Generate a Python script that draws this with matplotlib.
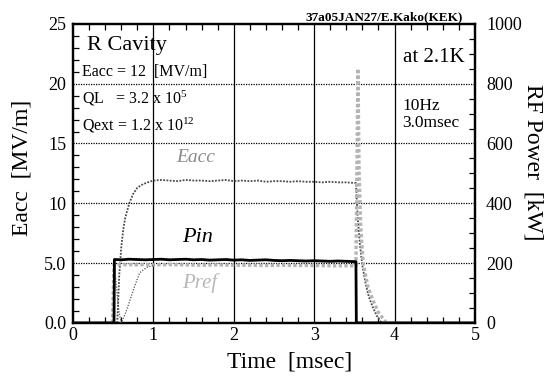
# plot.py - R cavity pulse waveforms (Eacc, Pin, Pref) at 2.1K

import matplotlib
matplotlib.use("Agg")
import matplotlib.pyplot as plt
from matplotlib.ticker import MultipleLocator, FixedLocator, FixedFormatter

# 1. Fonts
plt.rcParams["font.family"] = ["Liberation Serif", "DejaVu Serif"]
plt.rcParams["mathtext.fontset"] = "custom"
plt.rcParams["mathtext.rm"] = "Liberation Serif"

# 2. Data (time in msec)
# accelerating field, MV/m (left axis)
eacc_t = [0.55, 0.56, 0.575, 0.60, 0.625, 0.65, 0.70, 0.75, 0.80, 0.87, 0.95,
          1.0, 1.1, 1.2, 1.3, 1.4, 1.5, 1.6, 1.7, 1.8, 1.9, 2.0, 2.1, 2.2, 2.3,
          2.4, 2.5, 2.6, 2.7, 2.8, 2.9, 3.0, 3.1, 3.2, 3.3, 3.4, 3.5, 3.52,
          3.54, 3.57, 3.60, 3.64, 3.68, 3.73, 3.78, 3.84]
eacc_v = [0.0, 1.5, 4.0, 6.3, 7.8, 8.8, 10.0, 10.8, 11.3, 11.6, 11.8,
          11.9, 11.95, 11.9, 11.85, 11.95, 11.9, 11.9, 11.85, 11.9, 11.95, 11.85,
          11.9, 11.85, 11.9, 11.8, 11.85, 11.85, 11.8, 11.85, 11.8, 11.8, 11.75,
          11.8, 11.75, 11.75, 11.7, 11.7,
          9.0, 6.5, 4.8, 3.3, 2.2, 1.3, 0.6, 0.0]

# input power, kW (right axis)
pin_t = [0.0, 0.51, 0.515, 0.6, 0.7, 0.8, 0.9, 1.0, 1.1, 1.2, 1.3, 1.4, 1.5,
         1.6, 1.7, 1.8, 1.9, 2.0, 2.1, 2.2, 2.3, 2.4, 2.5, 2.6, 2.7, 2.8, 2.9,
         3.0, 3.1, 3.2, 3.3, 3.4, 3.5, 3.52, 3.525, 5.0]
pin_v = [0, 0, 212, 211, 213, 212, 211, 212, 213, 211, 212, 213, 211,
         212, 210, 211, 212, 210, 211, 209, 210, 211, 209, 208, 209, 208, 207,
         208, 207, 206, 207, 206, 205, 205, 0, 0]

# reflected power, kW (right axis)
pref_t = [0.49, 0.51, 0.55, 0.6, 0.7, 0.8, 0.9, 1.0, 1.2, 1.4, 1.6, 1.8, 2.0,
          2.2, 2.4, 2.6, 2.8, 3.0, 3.2, 3.4, 3.52, 3.535, 3.545, 3.56, 3.58,
          3.61, 3.67, 3.73, 3.80, 3.90]
pref_v = [0, 196, 195, 194, 195, 194, 195, 194, 195, 194, 193, 194, 193,
          193, 192, 193, 192, 192, 191, 191, 191, 600, 850, 500, 320,
          200, 120, 77, 35, 0]

# reflected power during cavity filling, kW (right axis)
fill_t = [0.515, 0.54, 0.57, 0.60, 0.65, 0.71, 0.77, 0.83, 0.92, 1.02]
fill_v = [195, 120, 40, 0, 30, 77, 125, 168, 186, 194]

# tick labels
eacc_ticks = [0, 5, 10, 15, 20, 25]
eacc_labels = ["0.0", "5.0", "10", "15", "20", "25"]
power_ticks = [0, 200, 400, 600, 800, 1000]
time_ticks = [0, 1, 2, 3, 4, 5]

# 3. Figure
fig = plt.figure(figsize=(5.49, 3.79), dpi=100)
ax = fig.add_axes([0.133, 0.148, 0.732, 0.789])
ax2 = ax.twinx()

ax.set_xlim(0, 5)
ax.set_ylim(0, 25)
ax2.set_ylim(0, 1000)

# grid: solid verticals, dotted horizontals
for t in time_ticks[1:-1]:
    ax.axvline(t, color="black", lw=0.9, zorder=1)
for e in eacc_ticks[1:-1]:
    ax.axhline(e, color="black", lw=0.9, ls=(0, (1, 1)), zorder=1)

# 4. Curves
ax2.plot(pref_t, pref_v, color="#b4b4b4", lw=2.4, ls=(0, (1, 0.7)), zorder=3)
ax2.plot(fill_t, fill_v, color="#555555", lw=0.9, ls=(0, (1, 1.2)), zorder=3)
ax2.plot(pin_t, pin_v, color="black", lw=2.0, zorder=4)
ax.plot(eacc_t, eacc_v, color="#4a4a4a", lw=1.3, ls=(0, (1, 0.8)), zorder=3)

# 5. Ticks and labels
ax.xaxis.set_major_locator(FixedLocator(time_ticks))
ax.xaxis.set_minor_locator(MultipleLocator(0.2))
ax.yaxis.set_major_locator(FixedLocator(eacc_ticks))
ax.yaxis.set_major_formatter(FixedFormatter(eacc_labels))
ax.yaxis.set_minor_locator(MultipleLocator(1))
ax2.yaxis.set_major_locator(FixedLocator(power_ticks))
ax2.yaxis.set_minor_locator(MultipleLocator(50))

ax.tick_params(axis="both", which="both", direction="in", labelsize=13)
ax.tick_params(axis="x", which="both", top=True, pad=3)
ax.tick_params(axis="y", which="both", right=False, pad=5)
ax.tick_params(which="major", length=0)
ax.tick_params(which="minor", length=4, width=0.9)
ax2.tick_params(axis="y", which="both", direction="in", labelsize=13, pad=8)
ax2.tick_params(which="major", length=0)
ax2.tick_params(which="minor", length=4, width=0.9)

for a in (ax, ax2):
    for s in a.spines.values():
        s.set_linewidth(1.6)

ax.set_xlabel("Time  [msec]", fontsize=17)
ax.xaxis.set_label_coords(0.54, -0.094)
ax.set_ylabel("Eacc  [MV/m]", fontsize=17)
ax.yaxis.set_label_coords(-0.102, 0.518)
ax2.set_ylabel("RF Power  [kW]", fontsize=17, rotation=270, va="center")
ax2.yaxis.set_label_coords(1.144, 0.538)

# 6. Annotations
ax.text(0.17, 23.2, "R Cavity", fontsize=16, va="center", zorder=5)
ax.text(0.11, 21.0, "Eacc = 12  [MV/m]", fontsize=11.5, va="center", zorder=5)
ax.text(0.11, 18.8, r"QL   = 3.2 x $\mathregular{10^{5}}$", fontsize=11.5,
        va="center", zorder=5)
ax.text(0.11, 16.5, r"Qext = 1.2 x $\mathregular{10^{12}}$", fontsize=11.5,
        va="center", zorder=5)
ax.text(4.87, 22.2, "at 2.1K", fontsize=15, ha="right", va="center", zorder=5)
ax.text(4.1, 18.1, "10Hz", fontsize=12.5, va="center", zorder=5)
ax.text(4.1, 16.7, "3.0msec", fontsize=12.5, va="center", zorder=5)
ax.text(1.52, 13.8, "Eacc", fontsize=14, style="italic", color="#8a8a8a",
        ha="center", va="center", zorder=5)
ax.text(1.55, 7.1, "Pin", fontsize=16, style="italic", color="black",
        ha="center", va="center", zorder=5)
ax.text(1.57, 3.3, "Pref", fontsize=15, style="italic", color="#b8b8b8",
        ha="center", va="center", zorder=5)

fig.text(0.843, 0.955, "37a05JAN27/E.Kako(KEK)", fontsize=9.5,
         fontweight="bold", ha="right", va="center")

fig.savefig("out.png", dpi=100)
print("Saved out.png")
